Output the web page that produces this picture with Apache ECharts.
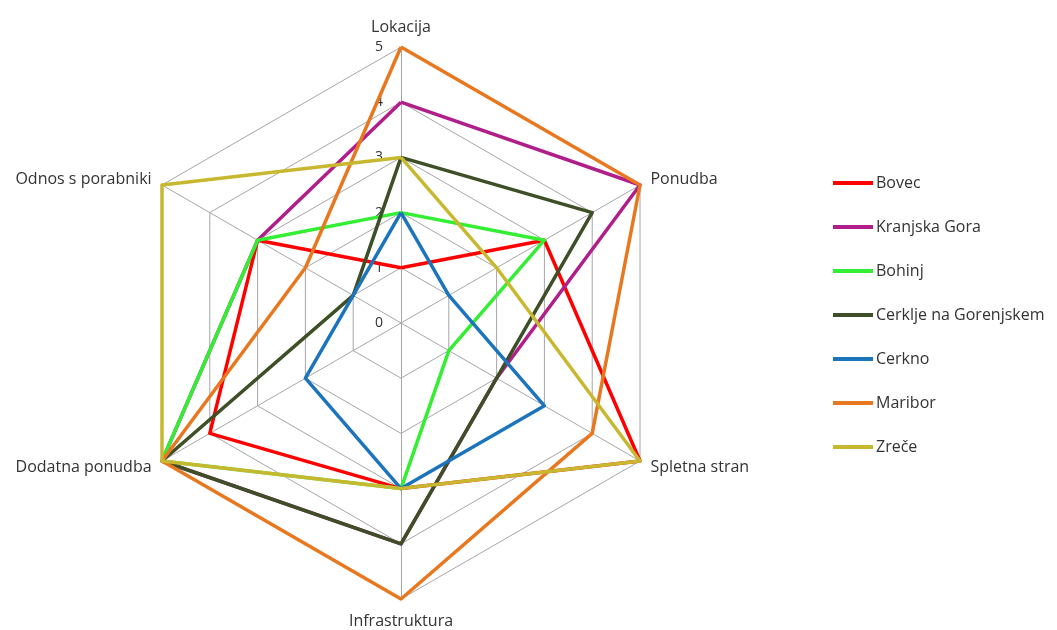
<!DOCTYPE html>
<html><head><meta charset="utf-8">
<script src="https://cdn.jsdelivr.net/npm/echarts@6/dist/echarts.min.js"></script>
<style>html,body{margin:0;padding:0;background:#fff}#c{width:1057px;height:630px}</style>
</head><body><div id="c"></div>
<script>
const indicators = ['Lokacija', 'Ponudba', 'Spletna stran', 'Infrastruktura', 'Dodatna ponudba', 'Odnos s porabniki'];
const seriesNames = ['Bovec', 'Kranjska Gora', 'Bohinj', 'Cerklje na Gorenjskem', 'Cerkno', 'Maribor', 'Zreče'];
const bovec = [1, 3, 5, 3, 4, 3];
const kranjskaGora = [4, 5, 2, 4, 5, 3];
const bohinj = [2, 3, 1, 3, 5, 3];
const cerklje = [3, 4, 2, 4, 5, 1];
const cerkno = [2, 1, 3, 3, 2, 1];
const maribor = [5, 5, 4, 5, 5, 2];
const zrece = [3, 2, 5, 3, 5, 5];
const tickLabels = ['0', '1', '2', '3', '4', '5'];

const allValues = [bovec, kranjskaGora, bohinj, cerklje, cerkno, maribor, zrece];
const colors = ['#FF0000', '#B01E8A', '#33EE33', '#3D4F27', '#1C74BC', '#E87820', '#C8B830'];

// ECharts lays indicators counter-clockwise; reorder so they run clockwise from the top
const order = [0, 5, 4, 3, 2, 1];
const gaps = {0: 12, 3: 14};
const FONT = "'Open Sans', sans-serif";

const indicatorOpts = order.map(function (i, k) {
  const o = { name: indicators[i], min: 0, max: 5, nameGap: gaps[i] != null ? gaps[i] : 12 };
  if (k === 0) {
    o.axisLabel = { show: true, margin: 18, color: '#333', fontSize: 14, fontFamily: FONT,
      formatter: function (v) { return tickLabels[Math.round(v)]; } };
  }
  return o;
});

const series = seriesNames.map(function (n, s) {
  return {
    type: 'radar',
    name: n,
    symbol: 'none',
    lineStyle: { width: 3.5, color: colors[s] },
    itemStyle: { color: colors[s] },
    data: [{ name: n, value: order.map(function (i) { return allValues[s][i]; }) }]
  };
});

const chart = echarts.init(document.getElementById('c'), null, { renderer: 'canvas' });
chart.setOption({
  animation: false,
  color: colors,
  legend: {
    orient: 'vertical',
    left: 833,
    top: 175,
    padding: 0,
    icon: 'rect',
    itemWidth: 40,
    itemHeight: 4,
    itemGap: 28,
    textStyle: { fontSize: 16, color: '#333', fontFamily: FONT, padding: [0, 0, 0, -2] },
    data: seriesNames
  },
  radar: {
    center: [401, 323],
    radius: 276,
    shape: 'polygon',
    splitNumber: 5,
    startAngle: 90,
    indicator: indicatorOpts,
    axisName: { color: '#333', fontSize: 16, fontFamily: FONT },
    axisLine: { lineStyle: { color: '#A6A6A6', width: 1 } },
    splitLine: { lineStyle: { color: '#A6A6A6', width: 1 } },
    splitArea: { show: false },
    axisTick: { show: false },
    axisLabel: { show: false }
  },
  series: series
});
</script></body></html>
